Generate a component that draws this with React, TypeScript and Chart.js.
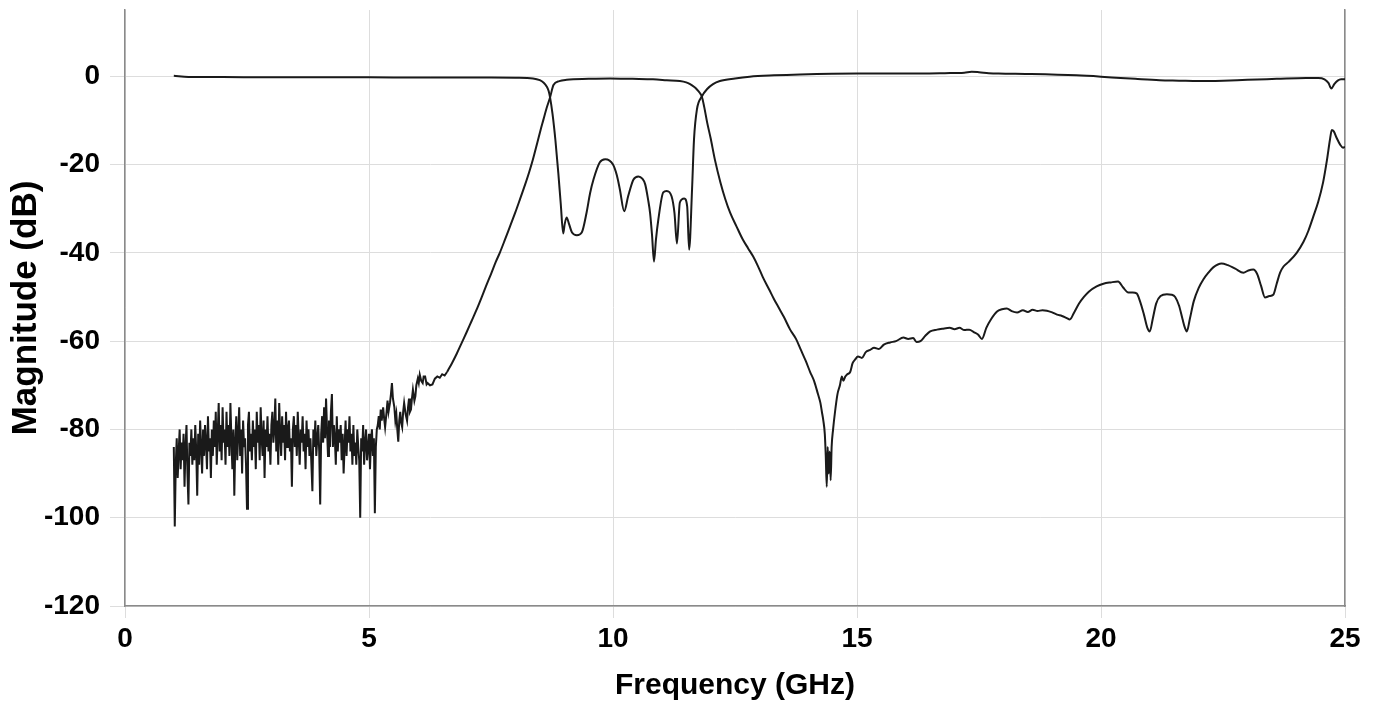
import React, { useEffect, useRef } from "react";
import { Chart, registerables } from "chart.js";

Chart.register(...registerables);

// Axis ticks
const xTickValues = [0, 5, 10, 15, 20, 25];
const yTickValues = [0, -20, -40, -60, -80, -100, -120];

// S21 noise floor: uniform sweep from 1.00 GHz in 0.02 GHz steps (dB)
const noiseStartGHz = 1.0;
const noiseStepGHz = 0.02;
const s21NoiseDb = [
  -84, -102, -88, -82, -91, -85, -80, -89, -83, -87, -81, -93, -84, -79, -90, -97, -83, -86, -80, -88, -82,
  -87, -79, -85, -95, -81, -88, -78, -84, -90, -80, -86, -79, -83, -89, -77, -85, -82, -91, -80, -86,
  -78, -84, -76, -88, -81, -74, -85, -79, -87, -75, -83, -80, -88, -76, -84, -79, -86, -74, -82, -89,
  -80, -95, -83, -77, -87, -81, -75, -86, -80, -90, -78, -84, -82, -88, -98, -79, -76, -85, -81, -87,
  -78, -84, -80, -89, -76, -83, -79, -87, -75, -82, -86, -78, -91, -80, -84, -77, -85, -81, -88, -79,
  -76, -83, -80, -73, -85, -78, -88, -74, -81, -86, -77, -83, -79, -87, -76, -84, -80, -78, -85, -82,
  -93, -80, -77, -84, -79, -86, -76, -82, -88, -80, -83, -77, -85, -81, -89, -78, -84, -80, -86, -82,
  -88, -94, -80, -84, -78, -86, -82, -79, -85, -97, -81, -77, -83, -75, -82, -73, -80, -86, -78, -84,
  -76, -72, -84, -79, -82, -88, -77, -85, -80, -83, -79, -87, -81, -90, -84, -78, -86, -80, -83, -77,
  -85, -81, -88, -79, -86, -83, -88, -80, -84, -87, -100, -82, -85, -79, -88, -83, -80, -87, -84, -81,
  -89, -83, -80, -86, -82, -99, -84, -80,
];

// S21 rough region after the noise floor: [GHz, dB]
const s21RipplePoints: [number, number][] = [
  [5.18, -79], [5.2, -77], [5.22, -80], [5.24, -75.5], [5.26, -78], [5.29, -75], [5.31, -77.5],
  [5.33, -79.5], [5.36, -76], [5.38, -73.5], [5.4, -76], [5.43, -74], [5.45, -72], [5.47, -69.5],
  [5.49, -73], [5.52, -75], [5.54, -78], [5.56, -76.5], [5.58, -80], [5.6, -82.8], [5.62, -78],
  [5.64, -76], [5.66, -78.5], [5.68, -79.5], [5.7, -76], [5.72, -74], [5.75, -76.5], [5.78, -78],
  [5.8, -75], [5.82, -73], [5.84, -76], [5.86, -75.5], [5.88, -73], [5.9, -71], [5.93, -73.5],
  [5.95, -72.5], [5.97, -70], [6.0, -68.5], [6.02, -69.5], [6.04, -67.6], [6.07, -69], [6.1, -69.5],
  [6.12, -68], [6.15, -68], [6.18, -69.8], [6.2, -69.5], [6.25, -70], [6.3, -69.8], [6.35, -68.5],
  [6.4, -68], [6.45, -68.3], [6.5, -67.5], [6.55, -67.8], [6.6, -67],
];

// S21 (transmission) smooth part from 6.6 GHz: [GHz, dB]
const s21Points: [number, number][] = [
  [6.6, -67], [6.7, -65], [6.8, -62.8], [6.9, -60.4], [7.0, -58], [7.1, -55.5], [7.2, -53],
  [7.3, -50.3], [7.4, -47.5], [7.5, -44.8], [7.6, -42], [7.68, -40], [7.78, -37.2], [7.89, -34],
  [8.0, -30.8], [8.09, -28], [8.2, -24.5], [8.28, -21.8], [8.36, -18.8], [8.45, -15], [8.52, -12],
  [8.57, -10], [8.64, -7.2], [8.71, -4.8], [8.78, -2], [8.9, -1.1], [9.05, -0.8], [9.5, -0.6],
  [9.94, -0.5], [10.4, -0.6], [10.82, -0.7], [11.1, -0.9], [11.37, -1.1], [11.5, -1.4],
  [11.58, -1.8], [11.66, -2.4], [11.72, -3.0], [11.78, -3.8], [11.82, -4.6], [11.87, -7],
  [11.93, -10.5], [12.0, -14], [12.09, -19], [12.2, -24], [12.3, -27.8], [12.4, -30.9],
  [12.53, -34], [12.66, -37], [12.77, -39], [12.87, -40.8], [12.97, -43], [13.07, -45.5],
  [13.2, -48.3], [13.3, -50.5], [13.4, -52.5], [13.5, -54.5], [13.63, -57.4], [13.75, -59.5],
  [13.85, -62], [13.95, -64.5], [14.04, -67], [14.12, -69], [14.2, -72], [14.25, -74],
  [14.28, -76], [14.31, -78], [14.34, -81], [14.36, -86], [14.38, -93], [14.4, -84],
  [14.42, -90], [14.44, -85], [14.46, -91.5], [14.48, -84], [14.51, -80], [14.55, -76],
  [14.6, -72], [14.65, -70], [14.69, -68], [14.72, -69], [14.76, -68], [14.8, -67.5],
  [14.86, -67], [14.91, -65], [14.96, -64.2], [15.02, -63.5], [15.1, -63.8], [15.18, -62.5],
  [15.27, -62], [15.35, -61.5], [15.45, -61.8], [15.55, -60.8], [15.68, -60.3], [15.8, -60],
  [15.95, -59.2], [16.05, -59.5], [16.15, -59.3], [16.22, -60.2], [16.3, -60], [16.4, -58.8],
  [16.5, -57.8], [16.64, -57.4], [16.75, -57.2], [16.9, -57], [17.0, -57.3], [17.1, -57],
  [17.2, -57.5], [17.3, -57.4], [17.4, -58], [17.48, -58.5], [17.56, -59.5], [17.65, -57],
  [17.75, -55], [17.87, -53.3], [17.97, -52.8], [18.07, -52.6], [18.17, -53.2], [18.28, -53.5],
  [18.4, -53], [18.5, -53.4], [18.6, -52.9], [18.7, -53.2], [18.8, -53], [18.89, -53.1],
  [19.0, -53.5], [19.1, -54], [19.2, -54.3], [19.3, -54.8], [19.36, -55.1], [19.45, -53.5],
  [19.55, -51.5], [19.65, -50], [19.75, -48.8], [19.91, -47.6], [20.05, -47], [20.2, -46.7],
  [20.35, -46.5], [20.45, -47.8], [20.56, -49], [20.65, -49], [20.73, -49.2], [20.8, -51],
  [20.88, -54], [20.95, -57], [21.0, -57.8], [21.06, -55], [21.13, -51.5], [21.22, -49.8],
  [21.35, -49.4], [21.45, -49.5], [21.52, -50], [21.6, -52], [21.67, -55], [21.72, -57],
  [21.76, -57.8], [21.82, -55], [21.9, -51], [22.0, -48], [22.1, -46], [22.2, -44.5],
  [22.3, -43.3], [22.47, -42.4], [22.6, -42.8], [22.75, -43.6], [22.92, -44.5], [23.02, -44],
  [23.12, -43.8], [23.2, -44.8], [23.28, -47.5], [23.36, -50.1], [23.45, -49.8], [23.53, -49.5],
  [23.6, -47], [23.67, -44.5], [23.74, -43.1], [23.85, -42], [24.01, -40], [24.15, -37.5],
  [24.25, -35], [24.35, -31.8], [24.45, -28.5], [24.55, -24.1], [24.63, -19], [24.69, -14.5],
  [24.73, -12.2], [24.77, -12.5], [24.83, -14], [24.9, -15.5], [24.96, -16.2], [25.0, -16],
];

// S11 (reflection): [GHz, dB]
const s11Points: [number, number][] = [
  [1.0, 0.1], [1.3, -0.15], [2.0, -0.2], [3.0, -0.25], [4.0, -0.25], [5.0, -0.25],
  [6.0, -0.3], [7.0, -0.3], [7.5, -0.3], [8.0, -0.35], [8.36, -0.5], [8.5, -0.9],
  [8.58, -1.5], [8.64, -2.3], [8.68, -3.3], [8.71, -4.8], [8.76, -8.5], [8.82, -14.5],
  [8.88, -22], [8.93, -29], [8.98, -35.6], [9.01, -33.5], [9.05, -32], [9.1, -33.5],
  [9.16, -35.4], [9.26, -36], [9.36, -35.4], [9.46, -30.8], [9.53, -26.5], [9.6, -23.4],
  [9.73, -19.5], [9.84, -18.8], [10.0, -20], [10.08, -22.5], [10.14, -25.6], [10.23, -30.6],
  [10.31, -27.2], [10.42, -23.4], [10.52, -22.7], [10.6, -23.2], [10.66, -24.5], [10.72, -28],
  [10.76, -31], [10.8, -36], [10.84, -42], [10.88, -37], [10.93, -32.4], [11.03, -26.3],
  [11.1, -26], [11.2, -27.2], [11.26, -31], [11.31, -37.9], [11.37, -28.6], [11.46, -27.7],
  [11.52, -29.5], [11.56, -39.3], [11.62, -25.6], [11.66, -14.3], [11.72, -7.5], [11.82, -4.6],
  [11.93, -2.9], [12.05, -1.8], [12.19, -1.1], [12.5, -0.5], [12.8, -0.1], [13.3, 0.2],
  [13.83, 0.4], [15.0, 0.6], [16.0, 0.6], [16.8, 0.7], [17.2, 0.8], [17.35, 1.0],
  [17.5, 0.9], [17.7, 0.7], [17.9, 0.6], [18.5, 0.5], [19.5, 0.2], [20.0, -0.1],
  [20.4, -0.4], [20.7, -0.6], [21.2, -0.9], [21.6, -1.0], [22.0, -1.1], [22.5, -1.0],
  [23.0, -0.8], [23.6, -0.6], [24.2, -0.4], [24.45, -0.4], [24.58, -0.7], [24.66, -1.5],
  [24.72, -2.8], [24.78, -1.8], [24.85, -1.0], [24.92, -0.7], [25.0, -0.7],
];

const FONT = "'Liberation Sans', Arial, sans-serif";
const GRID = "#dddddd";
const AXIS = "#8a8a8a";
const LINE = "#1a1a1a";

export default function App() {
  const ref = useRef<HTMLCanvasElement | null>(null);

  useEffect(() => {
    if (!ref.current) return;
    const s21RoughData = [
      ...s21NoiseDb.map((y, i) => ({ x: Math.round((noiseStartGHz + i * noiseStepGHz) * 100) / 100, y })),
      ...s21RipplePoints.map(([x, y]) => ({ x, y })),
    ];
    const s21SmoothData = s21Points.map(([x, y]) => ({ x, y }));
    const s11Data = s11Points.map(([x, y]) => ({ x, y }));

    const lineBase = {
      borderColor: LINE,
      borderWidth: 2,
      pointRadius: 0,
      fill: false,
    };

    const chart = new Chart(ref.current, {
      type: "line",
      data: {
        datasets: [
          { label: "S21", data: s21RoughData, ...lineBase, borderWidth: 2, tension: 0 },
          { label: "S21 ", data: s21SmoothData, ...lineBase, cubicInterpolationMode: "monotone" },
          { label: "S11", data: s11Data, ...lineBase, cubicInterpolationMode: "monotone" },
        ],
      },
      options: {
        animation: false,
        responsive: false,
        events: [],
        layout: { padding: { top: 10, right: 34, left: 0, bottom: 0 } },
        plugins: { legend: { display: false }, tooltip: { enabled: false } },
        scales: {
          x: {
            type: "linear",
            min: 0,
            max: 25,
            afterBuildTicks: (s: any) => {
              s.ticks = xTickValues.map((v) => ({ value: v }));
            },
            afterFit: (s: any) => {
              s.height = 99;
            },
            grid: { color: GRID, lineWidth: 1, tickLength: 12, drawTicks: true },
            border: { display: true, color: AXIS, width: 1.5 },
            ticks: {
              color: "#000",
              padding: 4,
              maxRotation: 0,
              font: { family: FONT, size: 28, weight: "bold" },
            },
            title: {
              display: true,
              text: "Frequency (GHz)",
              color: "#000",
              padding: { top: 0, bottom: 1 },
              font: { family: FONT, size: 30, weight: "bold" },
            },
          },
          y: {
            type: "linear",
            min: -120,
            max: 15,
            afterBuildTicks: (s: any) => {
              s.ticks = yTickValues.map((v) => ({ value: v }));
            },
            afterFit: (s: any) => {
              s.width = 125;
              s.paddingTop = 0;
            },
            grid: { color: GRID, lineWidth: 1, tickLength: 15, drawTicks: true },
            border: { display: true, color: AXIS, width: 1.5 },
            ticks: {
              color: "#000",
              padding: 10,
              font: { family: FONT, size: 28, weight: "bold" },
            },
            title: {
              display: true,
              text: "Magnitude (dB)",
              color: "#000",
              padding: { top: 5, bottom: 0 },
              font: { family: FONT, size: 35, weight: "bold" },
            },
          },
          yRight: {
            type: "linear",
            position: "right",
            min: -120,
            max: 15,
            ticks: { display: false },
            grid: { display: false, drawTicks: false },
            border: { display: true, color: AXIS, width: 1.5 },
            afterFit: (s: any) => {
              s.width = 0;
              s.paddingTop = 0;
            },
          },
        },
      },
    } as any);

    return () => chart.destroy();
  }, []);

  return (
    <div style={{ position: "fixed", left: 0, top: 0, width: 1379, height: 705, background: "#fff" }}>
      <canvas ref={ref} width={1379} height={705} style={{ display: "block", width: 1379, height: 705 }} />
    </div>
  );
}
